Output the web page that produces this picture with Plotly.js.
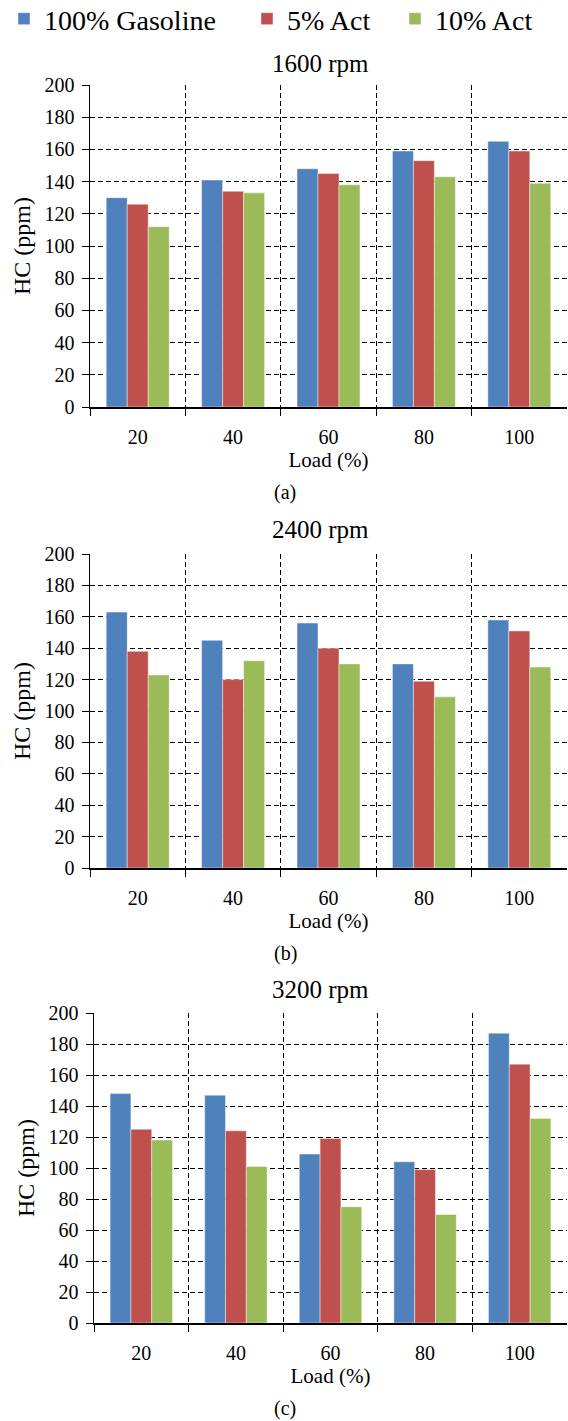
<!DOCTYPE html>
<html>
<head>
<meta charset="utf-8">
<script src="https://cdn.plot.ly/plotly-3.0.1.min.js"></script>
<style>html,body{margin:0;padding:0;background:#fff;}#chart{width:568px;height:1421px;}</style>
</head>
<body>
<div id="chart"></div>
<script>
// ---- data ----
const loads = ["20", "40", "60", "80", "100"];
const seriesNames = ["100% Gasoline", "5% Act", "10% Act"];
const seriesColors = ["#4F81BD", "#C0504D", "#9BBB59"];
const panelTitles = ["1600 rpm", "2400 rpm", "3200 rpm"];
const panelLabels = ["(a)", "(b)", "(c)"];

// 1600 rpm
const gas1600 = [130, 141, 148, 159, 165];
const act5_1600 = [126, 134, 145, 153, 159];
const act10_1600 = [112, 133, 138, 143, 139];
// 2400 rpm
const gas2400 = [163, 145, 156, 130, 158];
const act5_2400 = [138, 120, 140, 119, 151];
const act10_2400 = [123, 132, 130, 109, 128];
// 3200 rpm
const gas3200 = [148, 147, 109, 104, 187];
const act5_3200 = [125, 124, 119, 99, 167];
const act10_3200 = [118, 101, 75, 70, 132];

const panels = [
  [gas1600, act5_1600, act10_1600],
  [gas2400, act5_2400, act10_2400],
  [gas3200, act5_3200, act10_3200]
];

// ---- layout geometry ----
const W = 568, H = 1421;
const font = "Liberation Serif";
const yDomPx = [[85, 407], [554, 868], [1013, 1323]];
const xDomPx = [[90, 567], [90, 567], [94, 567]];
const titleCenterPx = [64, 529, 990];
const legendNames = ["legend", "legend2", "legend3"];
const legendSymbolPx = [22, 265, 413];
const gridDash = "5px,3px";

const traces = [];
panels.forEach((p, i) => {
  p.forEach((vals, s) => {
    traces.push({
      type: "bar",
      x: loads,
      y: vals,
      name: seriesNames[s],
      legend: legendNames[s],
      showlegend: i === 0,
      marker: {color: seriesColors[s], line: {color: "rgba(255,255,255,0.55)", width: 0.8}},
      xaxis: i === 0 ? "x" : "x" + (i + 1),
      yaxis: i === 0 ? "y" : "y" + (i + 1),
      hoverinfo: "x+y+name"
    });
  });
});

const layout = {
  width: W, height: H,
  margin: {l: 0, r: 0, t: 0, b: 0, autoexpand: false},
  paper_bgcolor: "#fff", plot_bgcolor: "#fff",
  font: {family: font, color: "#000", size: 19},
  barmode: "group",
  bargap: 0.34,
  bargroupgap: 0,
  showlegend: true,
  annotations: [],
};

legendNames.forEach((ln, s) => {
  layout[ln] = {
    orientation: "h",
    x: (legendSymbolPx[s] - 18) / W, xanchor: "left",
    y: 1 - 19 / H, yanchor: "middle",
    font: {family: font, size: 28, color: "#000"},
    bgcolor: "rgba(0,0,0,0)", borderwidth: 0, itemwidth: 30
  };
});

for (let i = 0; i < 3; i++) {
  const xk = i === 0 ? "xaxis" : "xaxis" + (i + 1);
  const yk = i === 0 ? "yaxis" : "yaxis" + (i + 1);
  const yd = [1 - yDomPx[i][1] / H, 1 - yDomPx[i][0] / H];
  const xd = [xDomPx[i][0] / W, xDomPx[i][1] / W];
  layout[xk] = {
    domain: xd, anchor: i === 0 ? "y" : "y" + (i + 1),
    type: "category", tickson: "boundaries",
    showgrid: true, gridcolor: "#000", griddash: gridDash, gridwidth: 1,
    showline: true, linecolor: "#000", linewidth: 1.5,
    ticks: "outside", ticklen: 7, tickcolor: "#000", tickwidth: 1,
    ticklabelstandoff: 11,
    tickfont: {family: font, size: 20, color: "#000"},
    title: {text: "Load (%)", font: {family: font, size: 21, color: "#000"}, standoff: 6},
    fixedrange: true
  };
  layout[yk] = {
    domain: yd, anchor: i === 0 ? "x" : "x" + (i + 1),
    range: [0, 200], dtick: 20, tick0: 0,
    showgrid: true, gridcolor: "#000", griddash: gridDash, gridwidth: 1,
    zeroline: false,
    showline: true, linecolor: "#000", linewidth: 1.5,
    ticks: "outside", ticklen: 7, tickcolor: "#000", tickwidth: 1,
    ticklabelstandoff: 3,
    tickfont: {family: font, size: 20, color: "#000"},
    title: {text: "HC (ppm)", font: {family: font, size: 24, color: "#000"}, standoff: 7},
    fixedrange: true
  };
  layout.annotations.push({
    text: panelTitles[i], xref: "paper", yref: "paper",
    x: 320 / W, y: 1 - titleCenterPx[i] / H, yanchor: "middle", showarrow: false,
    font: {family: font, size: 25, color: "#000"}
  });
  layout.annotations.push({
    text: panelLabels[i], xref: "paper", yref: "paper",
    x: 285 / W, y: 1 - (yDomPx[i][1] + 85) / H, yanchor: "middle", showarrow: false,
    font: {family: font, size: 20, color: "#000"}
  });
}

Plotly.newPlot("chart", traces, layout, {displayModeBar: false, staticPlot: true});
</script>
</body>
</html>
